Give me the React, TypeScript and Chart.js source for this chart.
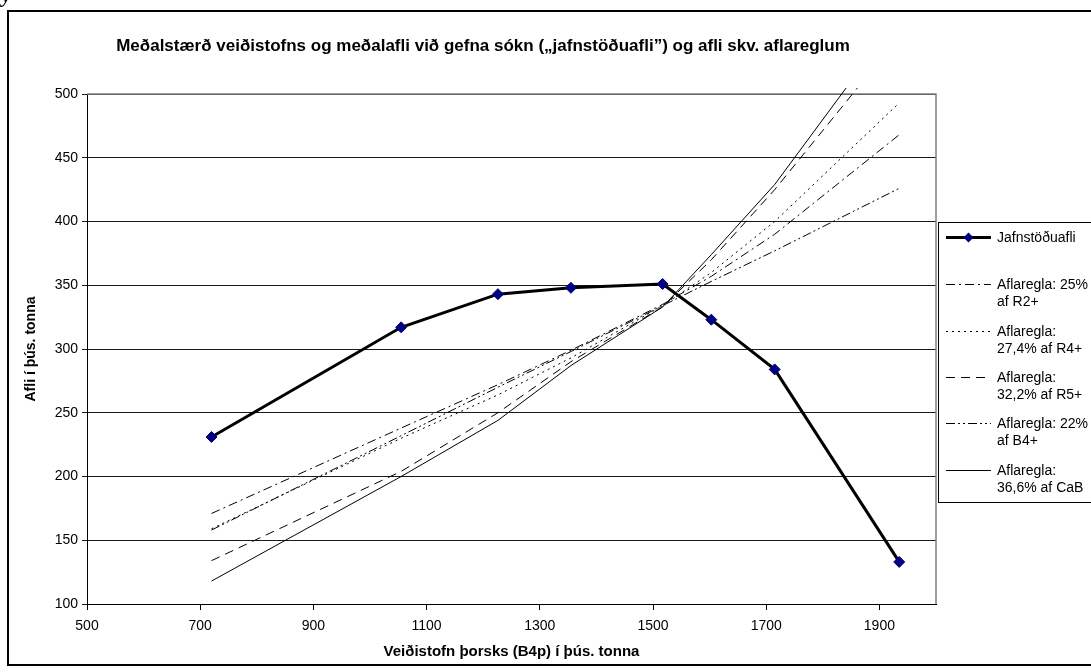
import React, { useEffect, useRef } from 'react';
import { Chart, registerables } from 'chart.js';

Chart.register(...registerables);

const W = 1091;
const H = 672;
const FONT = '"Liberation Sans", Arial, Helvetica, sans-serif';

const TITLE = 'Meðalstærð veiðistofns og meðalafli við gefna sókn („jafnstöðuafli”) og afli skv. aflareglum';
const X_TITLE = 'Veiðistofn þorsks (B4p) í þús. tonna';
const Y_TITLE = 'Afli í þús. tonna';

// Axis ticks
const xTickValues = [500, 700, 900, 1100, 1300, 1500, 1700, 1900];
const yTickValues = [100, 150, 200, 250, 300, 350, 400, 450, 500];

// Stock size (x) for each point
const stockX = [720, 1055, 1226, 1355, 1517, 1603, 1715, 1935];
// Equilibrium catch
const jafnstodu = [231, 317, 343, 348, 351, 323, 284, 133];
// Harvest rules
const rule25R2 = [171, 238, 272, 299, 335, 357, 390, 468];
const rule274R4 = [159, 230, 264, 293, 334, 360, 400, 493];
const rule322R5 = [134, 204, 250, 290, 333, 370, 425, 545];
const rule22B4 = [158, 232, 270, 298, 334, 353, 377, 426];
const rule366CaB = [118, 200, 244, 287, 333, 374, 429, 561];

const legendLines = [
  ['Jafnstöðuafli'],
  ['Aflaregla: 25%', 'af R2+'],
  ['Aflaregla:', '27,4% af R4+'],
  ['Aflaregla:', '32,2% af R5+'],
  ['Aflaregla: 22%', 'af B4+'],
  ['Aflaregla:', '36,6% af CaB'],
];

const DASH_DOT = [9, 4, 2, 4];
const DOTTED = [2, 4];
const DASHED = [9, 6];
const DASH_DOT_DOT = [9, 3, 2, 3, 2, 3];
const dashes = [[], DASH_DOT, DOTTED, DASHED, DASH_DOT_DOT, []];

export default function App() {
  const ref = useRef<HTMLCanvasElement>(null);

  useEffect(() => {
    const canvas = ref.current!;
    const pts = (ys: number[]) => stockX.map((x, i) => ({ x, y: ys[i] }));
    const ruleDs = (label: string, ys: number[], dash: number[]) => ({
      label,
      data: pts(ys),
      borderColor: '#000',
      backgroundColor: '#000',
      borderWidth: 1,
      borderDash: dash,
      pointRadius: 0,
      tension: 0,
      fill: false,
      clip: { left: 0, top: 6, right: 0, bottom: 0 },
    });

    const deco = {
      id: 'deco',
      beforeDatasetsDraw(chart: any) {
        const ctx = chart.ctx;
        const a = chart.chartArea;
        ctx.save();
        ctx.strokeStyle = '#808080';
        ctx.lineWidth = 1.5;
        ctx.beginPath();
        ctx.moveTo(a.left, a.top);
        ctx.lineTo(a.right, a.top);
        ctx.lineTo(a.right, a.bottom);
        ctx.stroke();
        ctx.restore();
      },
      afterDraw(chart: any) {
        const ctx = chart.ctx;
        const a = chart.chartArea;
        ctx.save();
        // outer frame
        ctx.strokeStyle = '#000';
        ctx.lineWidth = 2;
        ctx.strokeRect(8, 11, 1200, 654);
        // stray glyph at top-left
        ctx.fillStyle = '#000';
        ctx.font = 'bold italic 20px "Liberation Serif", serif';
        ctx.textBaseline = 'alphabetic';
        ctx.textAlign = 'left';
        ctx.fillText('y', 2, 2);
        // title
        ctx.font = `bold 17px ${FONT}`;
        ctx.textAlign = 'center';
        ctx.textBaseline = 'middle';
        ctx.fillText(TITLE, 483, 46);
        // x title
        ctx.font = `bold 15px ${FONT}`;
        ctx.fillText(X_TITLE, (a.left + a.right) / 2, 652);
        // y title
        ctx.save();
        ctx.font = `bold 14px ${FONT}`;
        ctx.translate(31, (a.top + a.bottom) / 2);
        ctx.rotate(-Math.PI / 2);
        ctx.fillText(Y_TITLE, 0, 0);
        ctx.restore();
        // legend
        ctx.strokeStyle = '#000';
        ctx.lineWidth = 1;
        ctx.fillStyle = '#fff';
        ctx.fillRect(938.5, 222.5, 300, 280);
        ctx.strokeRect(938.5, 222.5, 300, 280);
        const ys = [237, 284, 331, 377, 423, 470];
        ctx.font = `14px ${FONT}`;
        ctx.textAlign = 'left';
        ctx.textBaseline = 'middle';
        legendLines.forEach((lines, i) => {
          const y = ys[i];
          ctx.save();
          ctx.strokeStyle = '#000';
          ctx.lineWidth = i === 0 ? 3 : 1;
          ctx.setLineDash(dashes[i]);
          ctx.beginPath();
          ctx.moveTo(946, y + 0.5);
          ctx.lineTo(991, y + 0.5);
          ctx.stroke();
          ctx.restore();
          if (i === 0) {
            ctx.fillStyle = '#000080';
            ctx.beginPath();
            ctx.moveTo(968.5 - 5, y + 0.5);
            ctx.lineTo(968.5, y + 0.5 - 5);
            ctx.lineTo(968.5 + 5, y + 0.5);
            ctx.lineTo(968.5, y + 0.5 + 5);
            ctx.closePath();
            ctx.fill();
          }
          ctx.fillStyle = '#000';
          lines.forEach((t, j) => ctx.fillText(t, 997, y + 1 + j * 17));
        });
        ctx.restore();
      },
    };

    const chart = new Chart(canvas, {
      type: 'line',
      data: {
        datasets: [
          {
            label: 'Jafnstöðuafli',
            data: pts(jafnstodu),
            borderColor: '#000',
            backgroundColor: '#000080',
            borderWidth: 3,
            pointStyle: 'rectRot',
            pointRadius: 5.5,
            pointBackgroundColor: '#000080',
            pointBorderColor: '#000080',
            pointBorderWidth: 1,
            tension: 0,
            fill: false,
          },
          ruleDs('Aflaregla: 25% af R2+', rule25R2, DASH_DOT),
          ruleDs('Aflaregla: 27,4% af R4+', rule274R4, DOTTED),
          ruleDs('Aflaregla: 32,2% af R5+', rule322R5, DASHED),
          ruleDs('Aflaregla: 22% af B4+', rule22B4, DASH_DOT_DOT),
          ruleDs('Aflaregla: 36,6% af CaB', rule366CaB, []),
        ] as any,
      },
      options: {
        animation: false,
        responsive: false,
        maintainAspectRatio: false,
        devicePixelRatio: 1,
        layout: { padding: { top: 94, right: W - 936, bottom: 0, left: 0 } },
        plugins: {
          legend: { display: false },
          tooltip: { enabled: false },
          title: { display: false },
        },
        scales: {
          x: {
            type: 'linear',
            min: 500,
            max: 2000,
            afterBuildTicks: (s: any) => { s.ticks = xTickValues.map((v) => ({ value: v })); },
            ticks: {
              color: '#000',
              font: { size: 14, family: FONT },
              padding: 8,
              maxRotation: 0,
              autoSkip: false,
              callback: (v: any) => String(v),
            },
            grid: { drawOnChartArea: false, drawTicks: true, tickLength: 6, color: '#000' },
            border: { display: true, color: '#000', width: 1 },
            afterFit: (s: any) => { s.height = H - 604; },
          },
          y: {
            type: 'linear',
            min: 100,
            max: 500,
            afterBuildTicks: (s: any) => { s.ticks = yTickValues.map((v) => ({ value: v })); },
            ticks: {
              color: '#000',
              font: { size: 14, family: FONT },
              padding: 4,
              autoSkip: false,
              callback: (v: any) => String(v),
            },
            grid: { color: '#1a1a1a', lineWidth: 1, tickLength: 5 },
            border: { display: true, color: '#000', width: 1 },
            afterFit: (s: any) => { s.width = 87; },
          },
        },
      } as any,
      plugins: [deco],
    });
    return () => chart.destroy();
  }, []);

  return (
    <div style={{ position: 'fixed', left: 0, top: 0, width: W, height: H, background: '#fff', overflow: 'hidden' }}>
      <canvas ref={ref} width={W} height={H} style={{ display: 'block', width: W, height: H }} />
    </div>
  );
}
